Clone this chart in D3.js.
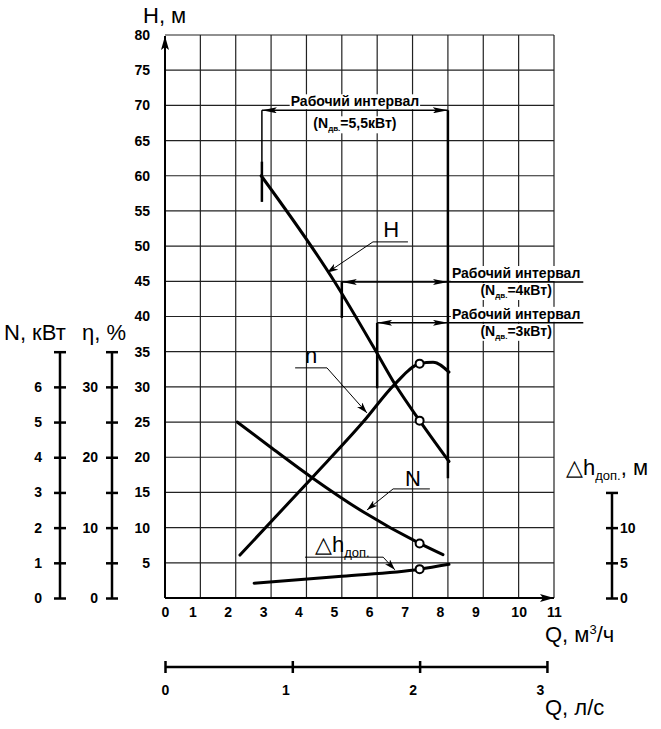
<!DOCTYPE html>
<html>
<head>
<meta charset="utf-8">
<script src="https://cdn.jsdelivr.net/npm/d3@7"></script>
<style>
    body { margin: 0; background: #fff; }
    text { font-family: "Liberation Sans", Arial, sans-serif; fill: #000; }
    .tl { font-size: 14px; font-weight: bold; }
    .ttl { font-size: 22px; }
    .lbl { font-size: 14px; font-weight: bold; }
</style>
</head>
<body>
<svg id="chart" width="661" height="729"></svg>
<script>
// curve points, Q in m3/h
var hQ    = [2.72, 4.8, 5.88, 6.5, 7.2, 8.03],
    hVal  = [60, 44.9, 35.8, 30.4, 25.2, 19.4];
var etaQ   = [2.12, 4.16, 5.6, 6.5, 7.2, 7.58, 8.03],
    etaVal = [6.1, 17.1, 25, 30.4, 33.3, 33.5, 32.1];
var nQ    = [2.04, 2.97, 4.16, 5.6, 7.2, 7.86],
    nVal  = [5.0, 4.3, 3.42, 2.45, 1.55, 1.23];
var dhQ   = [2.52, 5.0, 7.2, 8.03],
    dhVal = [2.1, 3.1, 4.1, 4.8];
var markQ = 7.2;   // 2 l/s

// tick values
var qTicks   = d3.range(0, 12),
    hTicks   = d3.range(5, 85, 5),
    nTicks   = d3.range(0, 8),
    etaTicks = d3.range(0, 40, 5),
    dhTicks  = [0, 5, 10, 15],
    lsTicks  = [0, 1, 2, 3];

// working intervals: from Q, to Q, at H, motor power
var intervals = [
    {from: 2.74, to: 8, h: 69.3, p: "5,5"},
    {from: 5,    to: 8, h: 44.9, p: "4"},
    {from: 6,    to: 8, h: 39.1, p: "3"}
];

var svg = d3.select("#chart");

var x    = d3.scaleLinear().domain([0, 11]).range([165, 554]),
    yH   = d3.scaleLinear().domain([0, 80]).range([598, 35]),
    yEta = d3.scaleLinear().domain([0, 35]).range([yH(0), yH(35)]),
    yN   = d3.scaleLinear().domain([0, 7]).range([yH(0), yH(35)]),
    yDh  = d3.scaleLinear().domain([0, 15]).range([yH(0), yH(15)]),
    xLs  = d3.scaleLinear().domain([0, 3]).range([x(0), x(10.8)]);

var defs = svg.append("defs");
function marker(id, len, half) {
    defs.append("marker")
        .attr("id", id)
        .attr("markerUnits", "userSpaceOnUse")
        .attr("viewBox", "0 0 " + len + " " + (half * 2))
        .attr("refX", len).attr("refY", half)
        .attr("markerWidth", len).attr("markerHeight", half * 2)
        .attr("orient", "auto-start-reverse")
        .append("path")
        .attr("d", "M0,0L" + len + "," + half + "L0," + (half * 2) + "L3," + half + "Z")
        .attr("fill", "#000");
}
marker("arr", 15, 3);
marker("lead", 11, 3.5);
marker("axarr", 14, 4);

// grid
var grid = svg.append("g").attr("stroke", "#222").attr("stroke-width", 1.2);
grid.selectAll(".vg").data(qTicks.slice(1)).enter().append("line")
    .attr("x1", function(d) { return x(d); }).attr("x2", function(d) { return x(d); })
    .attr("y1", yH(0)).attr("y2", yH(80));
grid.selectAll(".hg").data(hTicks).enter().append("line")
    .attr("x1", x(0)).attr("x2", x(11))
    .attr("y1", function(d) { return yH(d); }).attr("y2", function(d) { return yH(d); });

// main axes
svg.append("line").attr("x1", x(0)).attr("x2", x(0)).attr("y1", yH(0)).attr("y2", yH(80) + 1)
    .attr("stroke", "#000").attr("stroke-width", 2).attr("marker-end", "url(#axarr)");
svg.append("line").attr("x1", x(0)).attr("x2", x(11)).attr("y1", yH(0)).attr("y2", yH(0))
    .attr("stroke", "#000").attr("stroke-width", 2).attr("marker-end", "url(#axarr)");

var yAxis = svg.append("g").attr("transform", "translate(" + x(0) + ",0)")
    .call(d3.axisLeft(yH).tickValues(hTicks).tickSize(0).tickPadding(15));
yAxis.select(".domain").remove();
yAxis.selectAll("text").attr("class", "tl").attr("font-family", null).attr("font-size", null);

var xAxis = svg.append("g").attr("transform", "translate(0," + yH(0) + ")")
    .call(d3.axisBottom(x).tickValues(qTicks).tickSize(0).tickPadding(9));
xAxis.select(".domain").remove();
xAxis.selectAll("text").attr("class", "tl").attr("font-family", null).attr("font-size", null)
    .attr("dx", function(d) { return d > 0 && d < 10 ? -8 : 0; });

// side scales
function sideAxis(axis, scale, ticks, fmt, xpos, labelX) {
    var g = svg.append("g").attr("transform", "translate(" + xpos + ",0)")
        .call(axis(scale).tickValues(ticks).tickSize(6).tickFormat(fmt));
    g.select(".domain").attr("d", "M0," + scale.range()[0] + "V" + scale.range()[1])
        .attr("stroke-width", 2.5);
    g.selectAll(".tick line").attr("x1", -6).attr("x2", 6).attr("stroke-width", 2.5);
    g.selectAll(".tick text").attr("class", "tl").attr("font-family", null).attr("font-size", null)
        .attr("x", labelX);
    return g;
}
sideAxis(d3.axisLeft, yN, nTicks, function(d) { return d < 7 ? d : ""; }, 60, -18);
sideAxis(d3.axisLeft, yEta, etaTicks, function(d) { return d % 10 === 0 && d < 35 ? d : ""; }, 112, -14);
sideAxis(d3.axisRight, yDh, dhTicks, function(d) { return d < 15 ? d : ""; }, 612, 8);

// l/s scale
var lsAxis = svg.append("g").attr("transform", "translate(0,667)")
    .call(d3.axisBottom(xLs).tickValues(lsTicks).tickFormat(d3.format("d")).tickSize(6).tickPadding(12));
lsAxis.select(".domain").attr("d", "M" + xLs(0) + ",0H" + xLs(3)).attr("stroke-width", 2.5);
lsAxis.selectAll(".tick line").attr("y1", -6).attr("y2", 6).attr("stroke-width", 2.5);
lsAxis.selectAll(".tick text").attr("class", "tl").attr("font-family", null).attr("font-size", null)
    .attr("dx", function(d) { return d > 0 ? -7 : 0; });

// axis titles
function title(tx, ty, parts) {
    var t = svg.append("text").attr("class", "ttl").attr("x", tx).attr("y", ty);
    parts.forEach(function(p) {
        var s = t.append("tspan").text(p.t);
        if (p.sub) s.attr("font-size", 13).attr("dy", 5);
        if (p.sup) s.attr("font-size", 13).attr("dy", -8);
        if (p.back) s.attr("dy", p.back);
    });
    return t;
}
title(143, 23, [{t: "H, м"}]);
title(4, 340, [{t: "N, кВт"}]);
title(82, 340, [{t: "η, %"}]);
title(545, 642, [{t: "Q, м"}, {t: "3", sup: true}, {t: "/ч", back: 8}]);
title(545, 715, [{t: "Q, л/с"}]);
title(566, 475, [{t: "△h"}, {t: "доп.", sub: true}, {t: ", м", back: -5}]);

// working interval markers
var thick = svg.append("g").attr("stroke", "#000");
thick.append("line").attr("x1", x(2.74)).attr("x2", x(2.74)).attr("y1", yH(69.3)).attr("y2", yH(56.3)).attr("stroke-width", 1.5);
thick.append("line").attr("x1", x(2.74)).attr("x2", x(2.74)).attr("y1", yH(62)).attr("y2", yH(56.3)).attr("stroke-width", 2.5);
thick.append("line").attr("x1", x(8)).attr("x2", x(8)).attr("y1", yH(69.3)).attr("y2", yH(17)).attr("stroke-width", 2.5);
thick.append("line").attr("x1", x(5)).attr("x2", x(5)).attr("y1", yH(44.9)).attr("y2", yH(39.8)).attr("stroke-width", 2.5);
thick.append("line").attr("x1", x(6)).attr("x2", x(6)).attr("y1", yH(39.1)).attr("y2", yH(29.8)).attr("stroke-width", 2.5);

intervals.forEach(function(iv, i) {
    var g = svg.append("g");
    var cx, y1, y2, anchor;
    if (i === 0) {
        cx = (x(iv.from) + x(iv.to)) / 2; y1 = yH(iv.h) - 4; y2 = yH(iv.h) + 18; anchor = "middle";
    } else {
        cx = x(iv.to) + 4; y1 = yH(iv.h) - 4; y2 = yH(iv.h) + 13; anchor = "start";
    }
    var t1 = g.append("text").attr("class", "lbl").attr("x", cx).attr("y", y1)
        .attr("text-anchor", anchor).text("Рабочий интервал");
    var t2 = g.append("text").attr("class", "lbl").attr("text-anchor", "middle").attr("y", y2);
    t2.append("tspan").text("(N");
    t2.append("tspan").attr("font-size", 8).attr("dy", 3).text("дв.");
    t2.append("tspan").attr("dy", -3).text("=" + iv.p + "кВт)");
    var b1 = t1.node().getBBox();
    t2.attr("x", b1.x + b1.width / 2);
    var b2 = t2.node().getBBox();
    [b1, b2].forEach(function(b) {
        g.insert("rect", "text").attr("x", b.x - 1).attr("y", b.y + 1)
            .attr("width", b.width + 2).attr("height", b.height - 1).attr("fill", "#fff");
    });
    g.append("line").attr("x1", x(iv.from)).attr("x2", x(iv.to))
        .attr("y1", yH(iv.h)).attr("y2", yH(iv.h))
        .attr("stroke", "#000").attr("stroke-width", 1.5)
        .attr("marker-start", "url(#arr)").attr("marker-end", "url(#arr)");
    if (i > 0) {
        g.append("line").attr("x1", x(iv.to)).attr("x2", b1.x + b1.width + 3)
            .attr("y1", yH(iv.h)).attr("y2", yH(iv.h)).attr("stroke", "#000").attr("stroke-width", 1.5);
    }
});

// curves
var curves = [
    {q: hQ, v: hVal, y: yH},
    {q: etaQ, v: etaVal, y: yEta},
    {q: nQ, v: nVal, y: yN},
    {q: dhQ, v: dhVal, y: yDh}
];
curves.forEach(function(c) {
    var line = d3.line()
        .x(function(d) { return x(d); })
        .y(function(d, i) { return c.y(c.v[i]); })
        .curve(d3.curveMonotoneX);
    svg.append("path").datum(c.q).attr("d", line)
        .attr("fill", "none").attr("stroke", "#000").attr("stroke-width", 3)
        .attr("stroke-linecap", "round");
    var k = c.q.indexOf(markQ);
    svg.append("circle").attr("cx", x(markQ)).attr("cy", c.y(c.v[k])).attr("r", 4)
        .attr("fill", "#fff").attr("stroke", "#000").attr("stroke-width", 2);
});

// curve labels: text pos, underline, arrow tip (Q, H units)
var notes = [
    {parts: [{t: "H"}], tq: 6.17, th: 51.3, u0: 5.88, u1: 6.87, uh: 50.6, from: 5.88, tipQ: 4.58, tipH: 46.2},
    {parts: [{t: "n"}], tq: 3.96, th: 33.4, u0: 3.68, u1: 4.58, uh: 32.7, from: 4.58, tipQ: 5.71, tipH: 26.3},
    {parts: [{t: "N"}], tq: 6.79, th: 15.9, u0: 6.45, u1: 7.49, uh: 15.5, from: 6.45, tipQ: 5.71, tipH: 12.5},
    {parts: [{t: "△h"}, {t: "доп.", sub: true}], tq: 4.24, th: 6.5, u0: 3.96, u1: 6.17, uh: 5.8, from: 6.17, tipQ: 6.5, tipH: 4.0}
];
notes.forEach(function(n) {
    title(x(n.tq), yH(n.th), n.parts);
    svg.append("line").attr("x1", x(n.u0)).attr("x2", x(n.u1))
        .attr("y1", yH(n.uh)).attr("y2", yH(n.uh)).attr("stroke", "#000").attr("stroke-width", 1);
    svg.append("line").attr("x1", x(n.from)).attr("y1", yH(n.uh))
        .attr("x2", x(n.tipQ)).attr("y2", yH(n.tipH))
        .attr("stroke", "#000").attr("stroke-width", 1).attr("marker-end", "url(#lead)");
});
</script>
</body>
</html>
